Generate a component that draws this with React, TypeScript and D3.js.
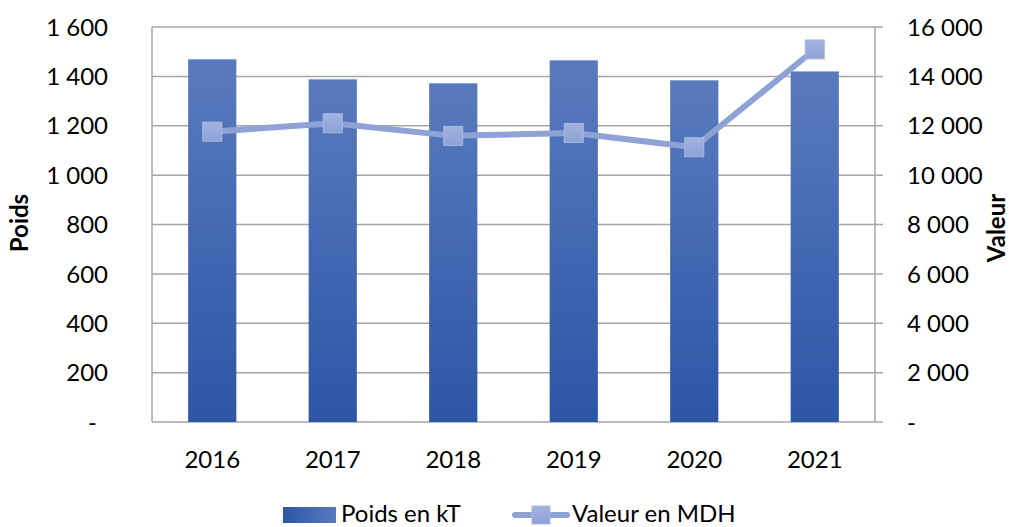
import React from "react";
import * as d3 from "d3";

const categories = ["2016", "2017", "2018", "2019", "2020", "2021"];
const poids = [1469, 1388, 1372, 1465, 1384, 1420];
const valeur = [11760, 12100, 11590, 11710, 11130, 15090];
const leftTicks = [0, 200, 400, 600, 800, 1000, 1200, 1400, 1600];
const rightTicks = [0, 2000, 4000, 6000, 8000, 10000, 12000, 14000, 16000];

const W = 1009;
const H = 527;
const M = { left: 152, right: 875, top: 27, bottom: 422 };
const FONT = "Lato, 'Open Sans', sans-serif";

const fmt = (v: number) =>
  v === 0 ? "-" : d3.format(",")(v).replace(/,/g, " ");

export default function App() {
  const x = d3
    .scaleBand<string>()
    .domain(categories)
    .range([M.left, M.right])
    .paddingInner(0.6)
    .paddingOuter(0.3);
  const yL = d3.scaleLinear().domain([0, 1600]).range([M.bottom, M.top]);
  const yR = d3.scaleLinear().domain([0, 16000]).range([M.bottom, M.top]);
  const cx = (c: string) => (x(c) as number) + x.bandwidth() / 2;
  const line = d3
    .line<number>()
    .x((_, i) => cx(categories[i]))
    .y((d) => yR(d));
  const ms = 19;

  return (
    <svg
      width={W}
      height={H}
      style={{ position: "absolute", left: 0, top: 0, background: "#fff" }}
      fontFamily={FONT}
    >
      <defs>
        <linearGradient id="barG" x1="0" y1="0" x2="0" y2="1">
          <stop offset="0" stopColor="#5a7abe" />
          <stop offset="1" stopColor="#2c56a6" />
        </linearGradient>
        <linearGradient id="legBar" x1="0" y1="0" x2="1" y2="0">
          <stop offset="0" stopColor="#2c56a6" />
          <stop offset="1" stopColor="#5a7abe" />
        </linearGradient>
        <linearGradient id="mkG" x1="0" y1="0" x2="0" y2="1">
          <stop offset="0" stopColor="#a3b3e0" />
          <stop offset="1" stopColor="#8ea2d6" />
        </linearGradient>
      </defs>
      {leftTicks.map((t) => (
        <line
          key={"g" + t}
          x1={M.left}
          x2={M.right + 8}
          y1={yL(t)}
          y2={yL(t)}
          stroke="#a6a6a6"
          strokeWidth={1.5}
        />
      ))}
      <line x1={M.left} x2={M.left} y1={M.top} y2={M.bottom} stroke="#a6a6a6" strokeWidth={1.5} />
      <line x1={M.right} x2={M.right} y1={M.top} y2={M.bottom} stroke="#a6a6a6" strokeWidth={1.5} />
      {poids.map((v, i) => (
        <rect
          key={"b" + i}
          x={x(categories[i])}
          y={yL(v)}
          width={x.bandwidth()}
          height={M.bottom - yL(v)}
          fill="url(#barG)"
        />
      ))}
      <path
        d={line(valeur) as string}
        fill="none"
        stroke="#8ea2d6"
        strokeWidth={6}
        strokeLinejoin="round"
      />
      {valeur.map((v, i) => (
        <rect
          key={"m" + i}
          x={cx(categories[i]) - ms / 2}
          y={yR(v) - ms / 2}
          width={ms}
          height={ms}
          fill="url(#mkG)"
          stroke="#a9b8e2"
          strokeWidth={1}
        />
      ))}
      {leftTicks.map((t) => (
        <text
          key={"l" + t}
          x={t === 0 ? 97 : 108}
          y={yL(t)}
          dy="0.36em"
          textAnchor="end"
          fontSize={24}
          fill="#000"
        >
          {fmt(t)}
        </text>
      ))}
      {rightTicks.map((t) => (
        <text
          key={"r" + t}
          x={907}
          y={yR(t)}
          dy="0.36em"
          textAnchor="start"
          fontSize={24}
          fill="#000"
        >
          {fmt(t)}
        </text>
      ))}
      {categories.map((c) => (
        <text key={"x" + c} x={cx(c)} y={468} textAnchor="middle" fontSize={24} fill="#000">
          {c}
        </text>
      ))}
      <text
        transform={`translate(28,223) rotate(-90)`}
        textAnchor="middle"
        fontSize={24}
        fontWeight="bold"
        fill="#000"
      >
        Poids
      </text>
      <text
        transform={`translate(1005,228) rotate(-90)`}
        textAnchor="middle"
        fontSize={24}
        fontWeight="bold"
        fill="#000"
      >
        Valeur
      </text>
      <rect x={283} y={507} width={53} height={16} fill="url(#legBar)" />
      <text x={341} y={522} fontSize={24} fill="#000">
        Poids en kT
      </text>
      <line x1={515} x2={567} y1={515} y2={515} stroke="#8ea2d6" strokeWidth={6} strokeLinecap="round" />
      <rect x={532} y={506} width={18} height={18} fill="url(#mkG)" stroke="#a9b8e2" />
      <text x={572} y={522} fontSize={24} fill="#000">
        Valeur en MDH
      </text>
    </svg>
  );
}
